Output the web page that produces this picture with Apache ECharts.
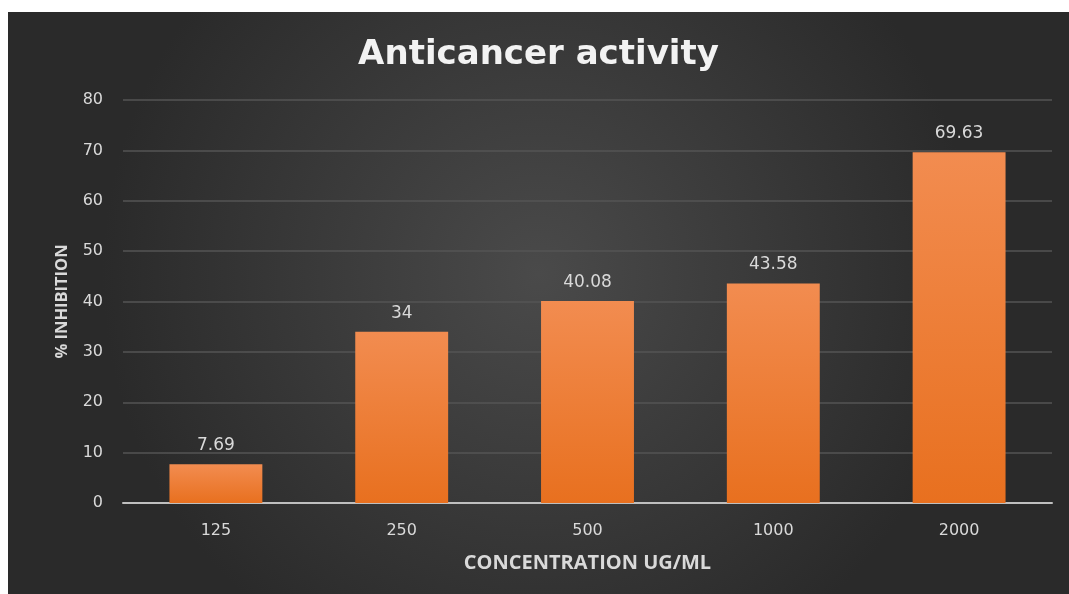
<!DOCTYPE html>
<html lang="en">
<head>
  <meta charset="UTF-8">
  <title>Anticancer activity</title>
  <style>
    html, body { margin: 0; padding: 0; background: #fff; }
    #chart {
      position: absolute;
      left: 8px;
      top: 12px;
      width: 1061px;
      height: 582px;
    }
  </style>
</head>
<body>
  <div id="chart"></div>
  <script src="https://cdn.jsdelivr.net/npm/echarts@6/dist/echarts.min.js"></script>
  <script>
    var categories = ['125', '250', '500', '1000', '2000'];
    var inhibition = [7.69, 34, 40.08, 43.58, 69.63];
    var yTicks = [0, 10, 20, 30, 40, 50, 60, 70, 80];

    var myChart = echarts.init(document.getElementById('chart'));

    var option = {
      backgroundColor: {
        type: 'radial', x: 0.5, y: 0.45, r: 0.75,
        colorStops: [
          { offset: 0, color: '#4a4a4a' },
          { offset: 1, color: '#2a2a2a' }
        ]
      },
      title: {
        text: 'Anticancer activity',
        left: 'center',
        top: 21,
        textStyle: {
          color: '#f2f2f2',
          fontSize: 34,
          fontWeight: 'bold',
          fontFamily: 'DejaVu Sans'
        }
      },
      grid: { left: 115, right: 17, top: 88, bottom: 91 },
      xAxis: {
        type: 'category',
        data: categories,
        name: 'CONCENTRATION UG/ML',
        nameLocation: 'middle',
        nameGap: 50,
        nameTextStyle: { color: '#d9d9d9', fontSize: 20, fontWeight: 'bold', fontFamily: 'Open Sans' },
        axisLine: { lineStyle: { color: '#bfbfbf', width: 2 } },
        axisTick: { show: false },
        axisLabel: { color: '#d9d9d9', fontSize: 16, margin: 20, fontFamily: 'DejaVu Sans' }
      },
      yAxis: {
        type: 'value',
        min: yTicks[0],
        max: yTicks[yTicks.length - 1],
        interval: 10,
        name: '% INHIBITION',
        nameLocation: 'middle',
        nameGap: 52,
        nameTextStyle: { color: '#d9d9d9', fontSize: 16.5, fontWeight: 'bold', fontFamily: 'Open Sans' },
        axisLine: { show: false },
        axisTick: { show: false },
        axisLabel: { color: '#d9d9d9', fontSize: 16, margin: 20, fontFamily: 'DejaVu Sans' },
        splitLine: { lineStyle: { color: '#555555', width: 1.5 } }
      },
      series: [{
        type: 'bar',
        data: inhibition,
        barWidth: '50%',
        itemStyle: {
          color: {
            type: 'linear', x: 0, y: 0, x2: 0, y2: 1,
            colorStops: [
              { offset: 0, color: '#f28c50' },
              { offset: 1, color: '#e8701f' }
            ]
          }
        },
        label: {
          show: true,
          position: 'top',
          distance: 10,
          color: '#d9d9d9',
          fontSize: 17,
          fontFamily: 'DejaVu Sans'
        }
      }]
    };

    myChart.setOption(option);
  </script>
</body>
</html>
